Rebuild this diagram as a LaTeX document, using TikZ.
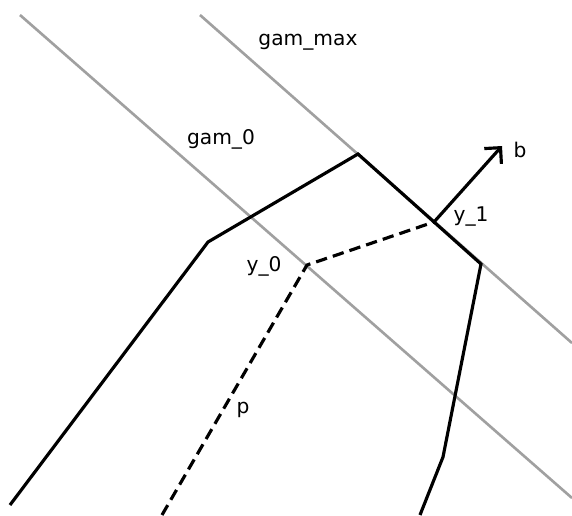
\documentclass[tikz,border=0pt]{standalone}
\usepackage{fontspec}
\setmainfont{DejaVu Sans}
\usetikzlibrary{arrows.meta}
\definecolor{levelgray}{RGB}{160,160,160}
\tikzset{
  level/.style={levelgray,line width=1.5pt},
  path/.style={black,line width=1.8pt},
  dpath/.style={black,line width=1.8pt,dash pattern=on 6.5pt off 3.5pt},
  lbl/.style={font=\fontsize{11.5}{13}\selectfont,inner sep=0pt}
}
\begin{document}
\begin{tikzpicture}[x=0.02cm,y=-0.02cm]
  \useasboundingbox (0,0) rectangle (572,515);
  % level lines
  \coordinate (g0a) at (20,15);
  \coordinate (g0b) at (572,498);
  \coordinate (gma) at (200,15);
  \coordinate (gmb) at (572,343);
  \draw[level] (g0a) -- (g0b);
  \draw[level] (gma) -- (gmb);
  % solid boundary
  \coordinate (l0) at (10,505);
  \coordinate (l1) at (208,242);
  \coordinate (top) at (358,154);
  \coordinate (r1) at (481,264);
  \coordinate (r2) at (443,457);
  \coordinate (r3) at (420,515);
  \draw[path,line join=miter] (l0) -- (l1) -- (top) -- (r1) -- (r2) -- (r3);
  % dashed path
  \coordinate (p0) at (162,515);
  \coordinate (y0) at (307,265);
  \coordinate (y1) at (434,222);
  \draw[dpath] (p0) -- (y0) -- (y1);
  % direction b
  \coordinate (btip) at (502,146);
  \draw[path,-{Straight Barb[length=2.3mm,width=4.6mm]}] (y1) -- (btip);
  % labels
  \node[lbl] (gmaxlbl) at (308,42) {gam\_max};
  \node[lbl] (g0lbl) at (221,139) {gam\_0};
  \node[lbl] (y0lbl) at (264,266) {y\_0};
  \node[lbl] (y1lbl) at (471,217) {y\_1};
  \node[lbl] (blbl) at (520,150) {b};
  \node[lbl] (plbl) at (243,410) {p};
\end{tikzpicture}
\end{document}
